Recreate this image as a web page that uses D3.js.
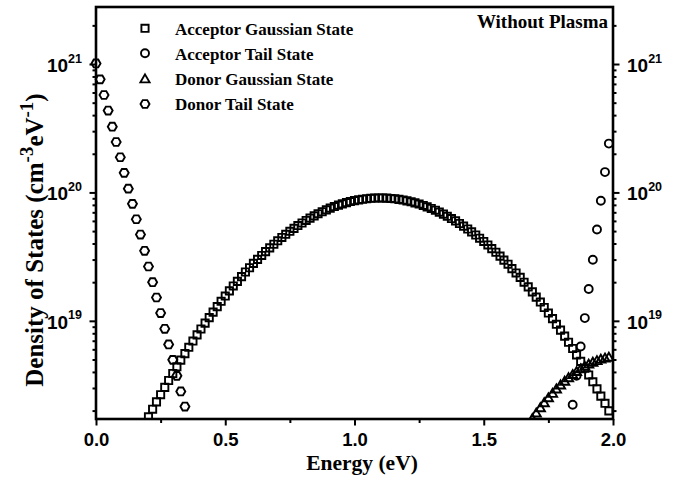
<!DOCTYPE html>
<html>
<head>
<meta charset="utf-8">
<script src="https://cdn.jsdelivr.net/npm/d3@7"></script>
<style>
  html, body { margin: 0; padding: 0; background: #fff; }
  svg { display: block; }
</style>
</head>
<body>
<svg id="chart" width="676" height="478"></svg>
<script>
// Energy grid (eV) shared by all four state distributions
const energyGrid = [
  0.000, 0.016, 0.031, 0.047, 0.063, 0.078, 0.094, 0.109, 0.125, 0.141, 0.156, 0.172, 0.188, 0.203, 0.219, 0.234,
  0.250, 0.266, 0.281, 0.297, 0.313, 0.328, 0.344, 0.359, 0.375, 0.391, 0.406, 0.422, 0.438, 0.453, 0.469, 0.484,
  0.500, 0.516, 0.531, 0.547, 0.563, 0.578, 0.594, 0.609, 0.625, 0.641, 0.656, 0.672, 0.688, 0.703, 0.719, 0.734,
  0.750, 0.766, 0.781, 0.797, 0.813, 0.828, 0.844, 0.859, 0.875, 0.891, 0.906, 0.922, 0.938, 0.953, 0.969, 0.984,
  1.000, 1.016, 1.031, 1.047, 1.063, 1.078, 1.094, 1.109, 1.125, 1.141, 1.156, 1.172, 1.188, 1.203, 1.219, 1.234,
  1.250, 1.266, 1.281, 1.297, 1.313, 1.328, 1.344, 1.359, 1.375, 1.391, 1.406, 1.422, 1.438, 1.453, 1.469, 1.484,
  1.500, 1.516, 1.531, 1.547, 1.563, 1.578, 1.594, 1.609, 1.625, 1.641, 1.656, 1.672, 1.688, 1.703, 1.719, 1.734,
  1.750, 1.766, 1.781, 1.797, 1.813, 1.828, 1.844, 1.859, 1.875, 1.891, 1.906, 1.922, 1.938, 1.953, 1.969, 1.984
];

// Acceptor Gaussian states (cm^-3 eV^-1), grid points 0.203 ... 1.984 eV
const acceptorGaussian = [
  1.79e18, 2.05e18, 2.34e18, 2.66e18, 3.03e18, 3.43e18, 3.89e18, 4.39e18, 4.94e18, 5.55e18, 6.22e18, 6.96e18,
  7.77e18, 8.64e18, 9.60e18, 1.06e19, 1.17e19, 1.29e19, 1.42e19, 1.56e19, 1.71e19, 1.87e19, 2.03e19, 2.21e19,
  2.40e19, 2.59e19, 2.80e19, 3.01e19, 3.23e19, 3.46e19, 3.70e19, 3.95e19, 4.20e19, 4.46e19, 4.72e19, 4.98e19,
  5.25e19, 5.52e19, 5.78e19, 6.05e19, 6.31e19, 6.57e19, 6.83e19, 7.07e19, 7.31e19, 7.54e19, 7.76e19, 7.96e19,
  8.15e19, 8.33e19, 8.49e19, 8.63e19, 8.75e19, 8.85e19, 8.93e19, 9.00e19, 9.04e19, 9.06e19, 9.05e19, 9.03e19,
  8.98e19, 8.92e19, 8.83e19, 8.73e19, 8.60e19, 8.45e19, 8.29e19, 8.12e19, 7.92e19, 7.72e19, 7.50e19, 7.27e19,
  7.03e19, 6.78e19, 6.52e19, 6.26e19, 6.00e19, 5.73e19, 5.46e19, 5.19e19, 4.93e19, 4.66e19, 4.40e19, 4.15e19,
  3.90e19, 3.65e19, 3.42e19, 3.19e19, 2.97e19, 2.76e19, 2.55e19, 2.36e19, 2.18e19, 2.00e19, 1.84e19, 1.68e19,
  1.53e19, 1.40e19, 1.27e19, 1.15e19, 1.04e19, 9.40e18, 8.46e18, 7.60e18, 6.81e18, 6.09e18, 5.43e18, 4.83e18,
  4.28e18, 3.79e18, 3.35e18, 2.95e18, 2.59e18, 2.28e18, 1.99e18
];

// Acceptor tail states, grid points 1.844 ... 1.984 eV
const acceptorTail = [
  2.22e18, 3.73e18, 6.31e18, 1.05e19, 1.77e19, 2.99e19, 5.15e19, 8.61e19, 1.44e20, 2.40e20
];

// Donor Gaussian states, grid points 1.688 ... 1.984 eV
const donorGaussian = [
  1.73e18, 1.91e18, 2.10e18, 2.30e18, 2.51e18, 2.72e18, 2.94e18, 3.16e18, 3.38e18, 3.60e18,
  3.81e18, 4.02e18, 4.22e18, 4.41e18, 4.59e18, 4.75e18, 4.89e18, 5.02e18, 5.12e18, 5.20e18
];

// Donor tail states, grid points 0.000 ... 0.344 eV
const donorTail = [
  1.01e21, 7.60e20, 5.74e20, 4.34e20, 3.25e20, 2.47e20, 1.88e20, 1.42e20, 1.07e20, 8.15e19, 6.18e19, 4.70e19,
  3.51e19, 2.65e19, 2.00e19, 1.52e19, 1.15e19, 8.67e18, 6.55e18, 4.97e18, 3.73e18, 2.82e18, 2.15e18
];

// Axis ticks and labels
const xMajorTicks = [0, 0.5, 1.0, 1.5, 2.0];
const xMinorTicks = [0.25, 0.75, 1.25, 1.75];
const xTickLabels = ["0.0", "0.5", "1.0", "1.5", "2.0"];
const yMajorTicks = [1e19, 1e20, 1e21];
const yTickExponents = ["19", "20", "21"];
const yMinorTicks = [2e18, 3e18, 4e18, 5e18, 6e18, 7e18, 8e18, 9e18,
                     2e19, 3e19, 4e19, 5e19, 6e19, 7e19, 8e19, 9e19,
                     2e20, 3e20, 4e20, 5e20, 6e20, 7e20, 8e20, 9e20, 2e21];
const seriesNames = ["Acceptor Gaussian State", "Acceptor Tail State", "Donor Gaussian State", "Donor Tail State"];
const panelLabel = "Without Plasma";

const series = [
  { name: seriesNames[0], shape: "square",   E: energyGrid.slice(13, 128),  N: acceptorGaussian },
  { name: seriesNames[1], shape: "circle",   E: energyGrid.slice(118, 128), N: acceptorTail },
  { name: seriesNames[2], shape: "triangle", E: energyGrid.slice(108, 128), N: donorGaussian },
  { name: seriesNames[3], shape: "hexagon",  E: energyGrid.slice(0, 23),    N: donorTail }
];

const plot = { left: 96, right: 613, top: 7, bottom: 419 };
const sans = "'Liberation Sans', Arial, sans-serif";
const serif = "'Liberation Serif', 'Times New Roman', serif";
const markerStroke = 1.9;

const svg = d3.select("#chart");
const x = d3.scaleLinear().domain([0, 2]).range([plot.left, plot.right]);
const y = d3.scaleLog().domain([1.72e18, 2.78e21]).range([plot.bottom, plot.top]);

// Open marker outlines centred on (cx, cy)
function markerPath(shape, cx, cy) {
  const p = d3.path();
  if (shape === "square") {
    p.rect(cx - 3.6, cy - 3.6, 7.2, 7.2);
  } else if (shape === "circle") {
    p.moveTo(cx + 4, cy);
    p.arc(cx, cy, 4, 0, 2 * Math.PI);
  } else if (shape === "triangle") {
    p.moveTo(cx, cy - 4.6);
    p.lineTo(cx + 4.6, cy + 3.4);
    p.lineTo(cx - 4.6, cy + 3.4);
  } else {
    const r = 4.5;
    for (let k = 0; k < 6; k++) {
      const a = k * Math.PI / 3;
      const px = cx + r * Math.cos(a), py = cy + r * Math.sin(a);
      if (k === 0) p.moveTo(px, py); else p.lineTo(px, py);
    }
  }
  p.closePath();
  return p.toString();
}

svg.append("defs").append("clipPath").attr("id", "plot-clip")
  .append("rect")
  .attr("x", plot.left - 8).attr("y", plot.top)
  .attr("width", plot.right - plot.left + 8).attr("height", plot.bottom - plot.top);

const marks = svg.append("g").attr("clip-path", "url(#plot-clip)");
series.forEach(s => {
  marks.append("g").selectAll("path")
    .data(s.N.map((v, i) => ({ e: s.E[i], v })))
    .join("path")
    .attr("d", d => markerPath(s.shape, x(d.e), y(d.v)))
    .attr("fill", "none")
    .attr("stroke", "#000")
    .attr("stroke-width", markerStroke);
});

// Axes: ticks drawn by d3.axis, labels with superscript exponents added per tick
const axisStyle = g => {
  g.select(".domain").remove();
  g.selectAll(".tick line").attr("stroke", "#000").attr("stroke-width", 2);
};

svg.append("g").attr("transform", `translate(0,${plot.bottom})`)
  .call(d3.axisBottom(x).tickValues(xMinorTicks).tickSize(4).tickFormat(""))
  .call(axisStyle);
const xAxis = svg.append("g").attr("transform", `translate(0,${plot.bottom})`)
  .call(d3.axisBottom(x).tickValues(xMajorTicks).tickSize(6.5).tickFormat((d, i) => xTickLabels[i]))
  .call(axisStyle);
xAxis.selectAll(".tick text")
  .attr("y", 0).attr("dy", null)
  .attr("transform", "translate(0,27)")
  .attr("font-family", sans).attr("font-weight", "bold").attr("font-size", 18.5).attr("fill", "#000");

function yAxisSide(axisFn, xPos, labelX, anchor) {
  svg.append("g").attr("transform", `translate(${xPos},0)`)
    .call(axisFn(y).tickValues(yMinorTicks).tickSize(3.5).tickFormat(""))
    .call(axisStyle);
  const g = svg.append("g").attr("transform", `translate(${xPos},0)`)
    .call(axisFn(y).tickValues(yMajorTicks).tickSize(6.5).tickFormat(""))
    .call(axisStyle);
  g.selectAll(".tick").each(function (d, i) {
    const t = d3.select(this).append("text")
      .attr("x", labelX).attr("y", 7.5)
      .attr("text-anchor", anchor)
      .attr("font-family", sans).attr("font-weight", "bold").attr("fill", "#000");
    t.append("tspan").attr("font-size", 19).text("10");
    t.append("tspan").attr("font-size", 12.5).attr("dy", -9.5).text(yTickExponents[i]);
  });
}
yAxisSide(d3.axisLeft, plot.left, -14, "end");
yAxisSide(d3.axisRight, plot.right, 14, "start");

// Frame
svg.append("rect")
  .attr("x", plot.left).attr("y", plot.top)
  .attr("width", plot.right - plot.left).attr("height", plot.bottom - plot.top)
  .attr("fill", "none").attr("stroke", "#000").attr("stroke-width", 2.6);

// Axis titles
svg.append("text")
  .attr("x", 362).attr("y", 470)
  .attr("text-anchor", "middle")
  .attr("font-family", serif).attr("font-weight", "bold").attr("font-size", 21.5)
  .text("Energy (eV)");

const yTitle = svg.append("text")
  .attr("transform", "translate(43,240) rotate(-90)")
  .attr("text-anchor", "middle")
  .attr("font-family", serif).attr("font-weight", "bold").attr("font-size", 25);
yTitle.append("tspan").text("Density of States (cm");
yTitle.append("tspan").attr("font-size", 19).attr("dy", -10).text("-3");
yTitle.append("tspan").attr("dy", 10).text("eV");
yTitle.append("tspan").attr("font-size", 19).attr("dy", -10).text("-1");
yTitle.append("tspan").attr("dy", 10).text(")");

// Legend
const legendRows = [28.3, 53.3, 79, 104];
const legend = svg.append("g");
series.forEach((s, i) => {
  legend.append("path")
    .attr("d", markerPath(s.shape, 145, legendRows[i]))
    .attr("fill", "none").attr("stroke", "#000").attr("stroke-width", markerStroke);
  legend.append("text")
    .attr("x", 175).attr("y", legendRows[i] + 6.3)
    .attr("font-family", serif).attr("font-weight", "bold").attr("font-size", 17)
    .text(s.name);
});

svg.append("text")
  .attr("x", 608).attr("y", 28)
  .attr("text-anchor", "end")
  .attr("font-family", serif).attr("font-weight", "bold").attr("font-size", 19)
  .text(panelLabel);
</script>
</body>
</html>
